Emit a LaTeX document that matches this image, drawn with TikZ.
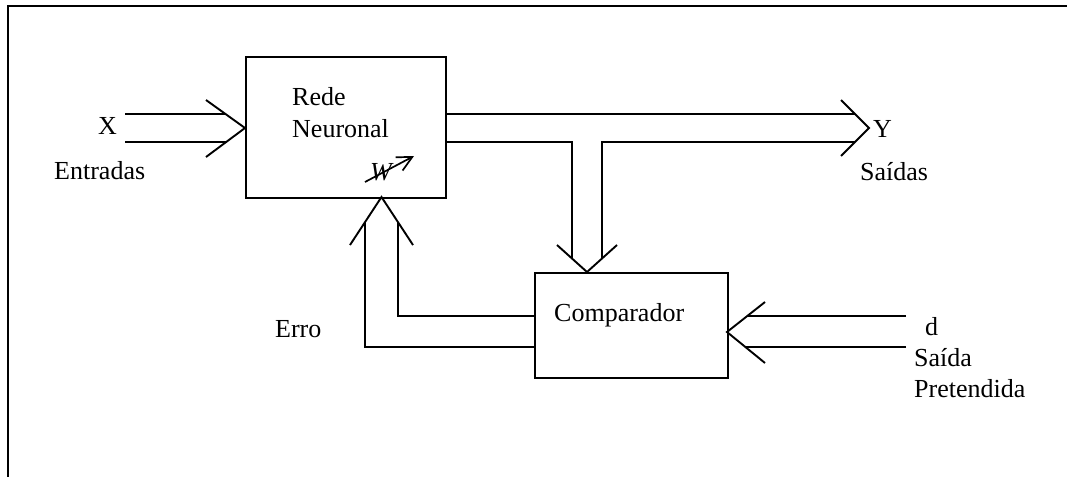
\documentclass[tikz,border=0pt]{standalone}
\usepackage{fontspec}
\setmainfont{Liberation Serif}
\usetikzlibrary{arrows.meta}
\begin{document}
\begin{tikzpicture}[x=1pt,y=-1pt,
  wire/.style={line width=1.9pt, line join=miter},
  blockbox/.style={draw, line width=1.9pt, inner sep=0pt, anchor=north west},
  lbl/.style={inner sep=0pt, anchor=base west, font=\fontsize{26}{31}\selectfont}]
\useasboundingbox (0,0) rectangle (1067,477);

% outer frame (top and left edges only)
\coordinate (fTL) at (8,6);
\coordinate (fTR) at (1067,6);
\coordinate (fBL) at (8,477);
\draw[line width=2.4pt] (fTR) -- (fTL) -- (fBL);

% blocks
\node[blockbox, minimum width=200pt, minimum height=141pt] (rn) at (245,56) {};
\node[blockbox, minimum width=193pt, minimum height=105pt] (cmp) at (534,272) {};

% block texts
\node[lbl] (rede) at (292,105) {Rede};
\node[lbl] (neur) at (292,137) {Neuronal};
\node[lbl] (comp) at (554,321) {Comparador};
\node[lbl, font=\fontsize{26}{31}\selectfont\itshape] (w) at (370,180) {W};
\coordinate (wA) at (365,182);
\coordinate (wB) at (414,156);
\draw[line width=1.7pt, -{Straight Barb[length=15pt,width=15pt,line width=1.7pt]}] (wA) -- (wB);

% input X: double line with open chevron
\coordinate (xTip) at (245,128);
\coordinate (xA1) at (206,100);
\coordinate (xA2) at (206,157);
\coordinate (xL1) at (125,114);
\coordinate (xL2) at (125,142);
\draw[wire] (xL1) -- (225.5,114);
\draw[wire] (xL2) -- (225.5,142);
\draw[wire] (xA1) -- (xTip) -- (xA2);
\node[lbl] (xlab) at (98,134) {X};
\node[lbl] (entr) at (54,179) {Entradas};

% output Y with branch to the comparator
\coordinate (yTip) at (869,128);
\coordinate (yA1) at (841,100);
\coordinate (yA2) at (841,156);
\coordinate (dTip) at (587,272);
\coordinate (dA1) at (557,245);
\coordinate (dA2) at (617,245);
\draw[wire] (rn.east |- 0,114) -- (855,114);
\draw[wire] (rn.east |- 0,142) -- (572,142) -- (572,258.5);
\draw[wire] (602,258.5) -- (602,142) -- (855,142);
\draw[wire] (yA1) -- (yTip) -- (yA2);
\draw[wire] (dA1) -- (dTip) -- (dA2);
\node[lbl] (ylab) at (873,137) {Y};
\node[lbl] (said) at (860,180) {Saídas};

% error feedback from comparator to the network
\coordinate (eTip) at (381.5,197);
\coordinate (eA1) at (350,245);
\coordinate (eA2) at (413,245);
\draw[wire] (cmp.west |- 0,347) -- (365,347) -- (365,221.5);
\draw[wire] (cmp.west |- 0,316) -- (398,316) -- (398,222);
\draw[wire] (eA1) -- (eTip) -- (eA2);
\node[lbl] (erro) at (275,337) {Erro};

% desired output d into the comparator
\coordinate (pTip) at (727,332);
\coordinate (pA1) at (765,302);
\coordinate (pA2) at (765,363);
\draw[wire] (906,316) -- (747,316);
\draw[wire] (906,347) -- (745.5,347);
\draw[wire] (pA1) -- (pTip) -- (pA2);
\node[lbl] (dlab) at (925,335) {d};
\node[lbl] (sd1) at (914,366) {Saída};
\node[lbl] (sd2) at (914,397) {Pretendida};
\end{tikzpicture}
\end{document}
